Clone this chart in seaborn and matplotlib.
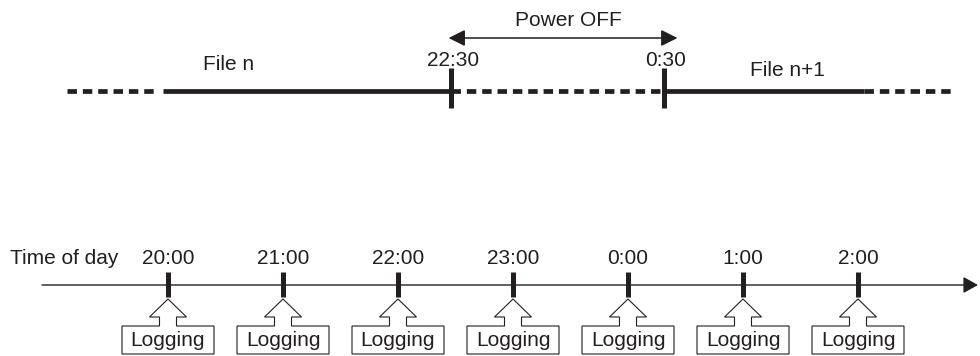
import matplotlib
matplotlib.use("Agg")
import matplotlib.pyplot as plt
from matplotlib.patches import Polygon
import seaborn as sns

INK = "#231f20"

# lower time axis (hours, 24 = midnight)
hours = [20, 21, 22, 23, 24, 25, 26]
hour_labels = ["20:00", "21:00", "22:00", "23:00", "0:00", "1:00", "2:00"]
log_label = "Logging"
axis_title = "Time of day"

# upper schematic line
event_labels = ["22:30", "0:30"]
event_pos = [22.46, 24.31]
file_labels = ["File n", "File n+1"]
file_label_pos = [20.53, 25.39]
seg_start = [19.12, 19.96, 22.46, 24.31, 26.05]
seg_end = [19.90, 22.46, 24.31, 26.05, 26.84]
seg_dashed = [True, False, True, False, True]
power_label = "Power OFF"
power_span = [22.44, 24.43]

PX_PER_HOUR = 115.0
FS = 15


def px(d):
    """pixel offset -> hours"""
    return d / PX_PER_HOUR


sns.set_theme(style="white")
plt.rcParams["font.family"] = ["Liberation Sans", "DejaVu Sans"]

fig = plt.figure(figsize=(9.8, 3.56), dpi=100)
ax = fig.add_axes([0, 0, 1, 1])
ax.set_xlim(20 - px(168), 20 + px(812))
ax.set_ylim(356, 0)
ax.axis("off")

# --- upper line: file segments
for s, e, dashed in zip(seg_start, seg_end, seg_dashed):
    ls = (0, (2.0, 1.25)) if dashed else "-"
    sns.lineplot(x=[s, e], y=[91, 91], ax=ax, color=INK, lw=3.4,
                 linestyle=ls, solid_capstyle="butt", dash_capstyle="butt")

for lab, x in zip(event_labels, event_pos):
    ax.vlines(x, 68, 108, color=INK, lw=3.6)
    ax.text(x + px(2), 60, lab, ha="center", va="center", fontsize=FS, color=INK)

for lab, x, y in zip(file_labels, file_label_pos, [65, 71]):
    ax.text(x, y, lab, ha="center", va="center", fontsize=FS, color=INK)

ax.annotate("", xy=(power_span[1], 38), xytext=(power_span[0], 38),
            arrowprops=dict(arrowstyle="<|-|>,head_length=0.5,head_width=0.25",
                            lw=1.1, color=INK, shrinkA=0, shrinkB=0,
                            mutation_scale=20))
ax.text(sum(power_span) / 2 + px(5), 21, power_label, ha="center", va="center",
        fontsize=FS, color=INK)

# --- lower time axis
ax.annotate("", xy=(20 + px(810), 285), xytext=(20 - px(126), 285),
            arrowprops=dict(arrowstyle="-|>,head_length=0.45,head_width=0.25",
                            lw=1.0, color=INK, shrinkA=0, shrinkB=0,
                            mutation_scale=20))
ax.text(20 - px(158), 258, axis_title, ha="left", va="center", fontsize=FS, color=INK)

for h, lab in zip(hours, hour_labels):
    ax.vlines(h, 272, 297, color=INK, lw=3.6)
    ax.text(h, 258, lab, ha="center", va="center", fontsize=FS, color=INK)

    # hollow arrow merged with the "Logging" box
    outline = [(-46, 354), (-46, 326), (-8.5, 326), (-8.5, 317), (-18.5, 317),
               (0, 299), (18.5, 317), (8.5, 317), (8.5, 326), (46, 326), (46, 354)]
    pts = [(h + px(dx), y) for dx, y in outline]
    ax.add_patch(Polygon(pts, closed=True, facecolor="white", edgecolor=INK, lw=0.8))
    ax.text(h, 340, log_label, ha="center", va="center", fontsize=FS, color=INK)

fig.savefig("out.png", dpi=100)
